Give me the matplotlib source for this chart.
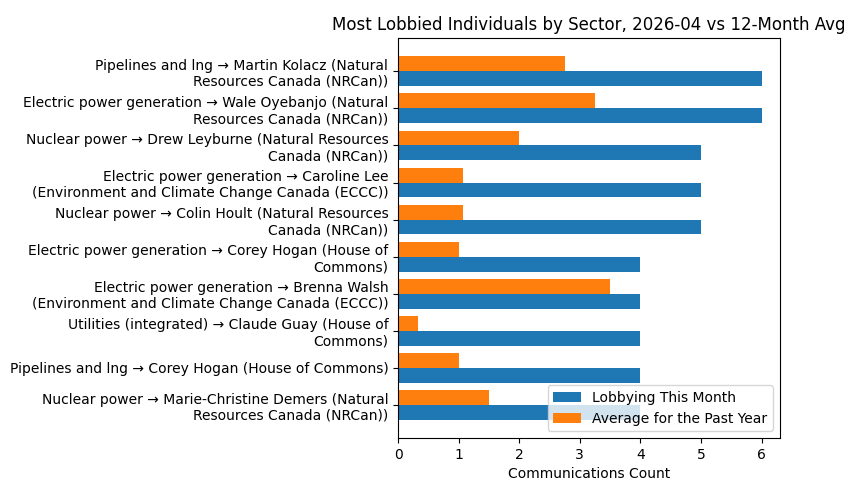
import matplotlib
matplotlib.use("Agg")
import matplotlib.pyplot as plt
import numpy as np

labels = [
    "Pipelines and lng → Martin Kolacz (Natural\nResources Canada (NRCan))",
    "Electric power generation → Wale Oyebanjo (Natural\nResources Canada (NRCan))",
    "Nuclear power → Drew Leyburne (Natural Resources\nCanada (NRCan))",
    "Electric power generation → Caroline Lee\n(Environment and Climate Change Canada (ECCC))",
    "Nuclear power → Colin Hoult (Natural Resources\nCanada (NRCan))",
    "Electric power generation → Corey Hogan (House of\nCommons)",
    "Electric power generation → Brenna Walsh\n(Environment and Climate Change Canada (ECCC))",
    "Utilities (integrated) → Claude Guay (House of\nCommons)",
    "Pipelines and lng → Corey Hogan (House of Commons)",
    "Nuclear power → Marie-Christine Demers (Natural\nResources Canada (NRCan))",
]
this_month = [6, 6, 5, 5, 5, 4, 4, 4, 4, 4]
past_avg = [2.75, 3.25, 2.0, 1.08, 1.08, 1.0, 3.5, 0.33, 1.0, 1.5]

fig = plt.figure(figsize=(8.55, 4.9), dpi=100)
ax = fig.add_axes([0.4655, 0.106, 0.4465, 0.816])
n = len(labels)
y = np.arange(n)[::-1]
h = 0.4
ax.barh(y - h/2, this_month, h, color="#1f77b4", label="Lobbying This Month")
ax.barh(y + h/2, past_avg, h, color="#ff7f0e", label="Average for the Past Year")
ax.set_yticks(y)
ax.set_yticklabels(labels)
ax.set_xlabel("Communications Count")
ax.set_title("Most Lobbied Individuals by Sector, 2026-04 vs 12-Month Avg")
ax.legend(loc="lower right")
fig.savefig("out.png", dpi=100)
